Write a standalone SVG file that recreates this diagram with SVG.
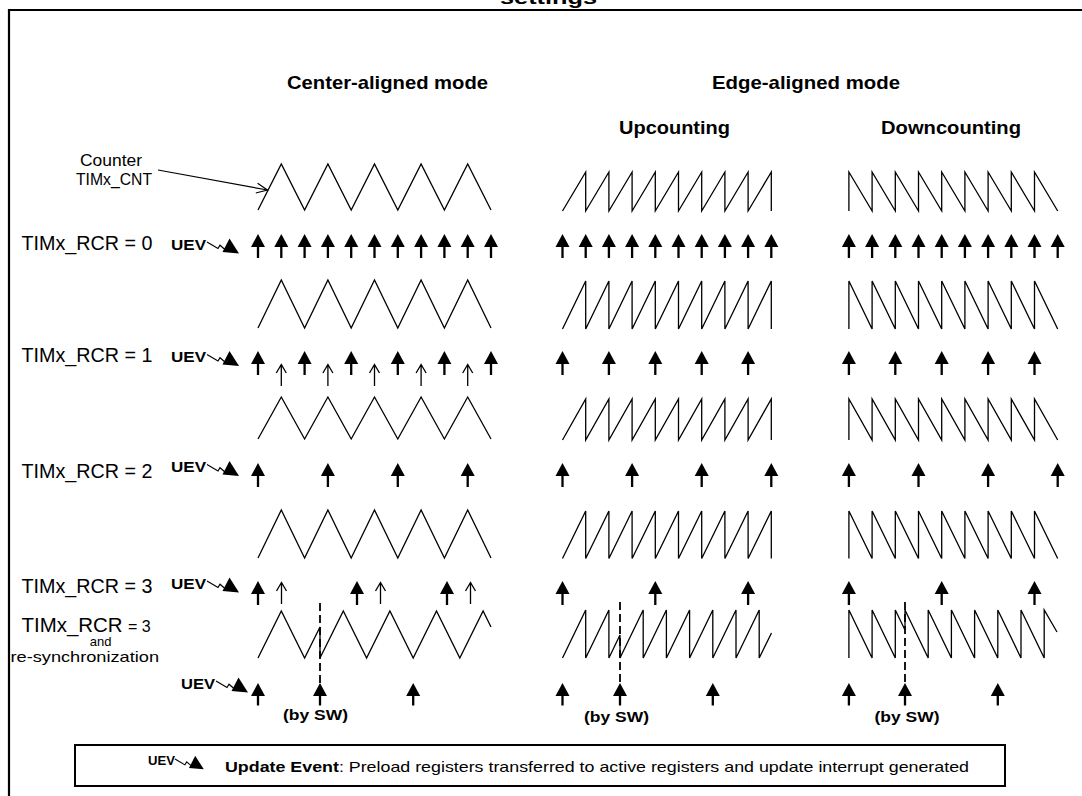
<svg xmlns="http://www.w3.org/2000/svg" xmlns:xlink="http://www.w3.org/1999/xlink" width="1082" height="796" viewBox="0 0 1082 796">
<style>
.w{fill:none;stroke:#000;stroke-width:1.3;stroke-linejoin:miter}
.t{font-family:"Liberation Sans",Arial,Helvetica,sans-serif;fill:#000}
.b{font-weight:bold}
.d{fill:none;stroke:#000;stroke-width:1.8;stroke-dasharray:8 4}
</style>
<defs>
<g id="fa"><path d="M-7,13 L0,0 L7,13 Z"/><rect x="-1.15" y="12" width="2.3" height="12"/></g>
<g id="fs"><path d="M-7,13 L0,0 L7,13 Z"/><rect x="-1.15" y="12" width="2.3" height="10.5"/></g>
<g id="oa"><path d="M0,0.5 V22 M-5,9 L0,0.5 L5,9" fill="none" stroke="#000" stroke-width="1.3"/></g>
<g id="bolt"><polyline points="0,0 11,6.5 13,3.2 18.5,8" fill="none" stroke="#000" stroke-width="1.2"/><path d="M15.5,10 L22.5,-3.5 L32,11.5 Z"/></g>
</defs>
<rect width="1082" height="796" fill="#fff"/>
<g id="frame">
<text class="t b" x="500" y="3.5" font-size="19" textLength="97" lengthAdjust="spacingAndGlyphs">settings</text>
<path d="M9,796 V10 H1082" fill="none" stroke="#000" stroke-width="2.2"/>
</g>
<g id="headings">
<text class="t b" x="287" y="89" font-size="18.5" textLength="201" lengthAdjust="spacingAndGlyphs">Center-aligned mode</text>
<text class="t b" x="712" y="89" font-size="18.5" textLength="188" lengthAdjust="spacingAndGlyphs">Edge-aligned mode</text>
<text class="t b" x="619" y="133.5" font-size="18.5" textLength="111" lengthAdjust="spacingAndGlyphs">Upcounting</text>
<text class="t b" x="881" y="133.5" font-size="18.5" textLength="140" lengthAdjust="spacingAndGlyphs">Downcounting</text>
</g>
<g id="counter-label">
<text class="t" x="80" y="166" font-size="16.5" textLength="62" lengthAdjust="spacingAndGlyphs">Counter</text>
<text class="t" x="76" y="184.5" font-size="16.5" textLength="76" lengthAdjust="spacingAndGlyphs">TIMx_CNT</text>
</g>
<g id="connectors">
<line x1="158" y1="170" x2="267.5" y2="190" stroke="#000" stroke-width="1.2"/>
<polyline points="257.6,183.2 267.5,190 255.8,193" fill="none" stroke="#000" stroke-width="1.2"/>
<line class="d" x1="320" y1="603" x2="320" y2="683"/>
<line class="d" x1="620" y1="602" x2="620" y2="683"/>
<line class="d" x1="905" y1="602" x2="905" y2="683"/>
</g>
<g id="waves-center">
<polyline class="w" points="258,210 281.3,164 304.6,210 327.9,164 351.2,210 374.5,164 397.8,210 421.1,164 444.4,210 467.7,164 491,210"/>
<polyline class="w" points="258,328 281.3,280 304.6,328 327.9,280 351.2,328 374.5,280 397.8,328 421.1,280 444.4,328 467.7,280 491,328"/>
<polyline class="w" points="258,439 281.3,397 304.6,439 327.9,397 351.2,439 374.5,397 397.8,439 421.1,397 444.4,439 467.7,397 491,439"/>
<polyline class="w" points="258,558 281.3,510 304.6,558 327.9,510 351.2,558 374.5,510 397.8,558 421.1,510 444.4,558 467.7,510 491,558"/>
<polyline class="w" points="258,658 281.3,611 304.6,658 320,627 320,658 343.3,611 366.6,658 389.9,611 413.2,658 436.5,611 459.8,658 483.1,611 491,627"/>
</g>
<g id="waves-up">
<path class="w" d="M562.5,211 L585.7,172 V211 L608.9,172 V211 L632.1,172 V211 L655.3,172 V211 L678.5,172 V211 L701.7,172 V211 L724.9,172 V211 L748.1,172 V211 L771.3,172 V211"/>
<path class="w" d="M562.5,329 L585.7,281 V329 L608.9,281 V329 L632.1,281 V329 L655.3,281 V329 L678.5,281 V329 L701.7,281 V329 L724.9,281 V329 L748.1,281 V329 L771.3,281 V329"/>
<path class="w" d="M562.5,440 L585.7,399 V440 L608.9,399 V440 L632.1,399 V440 L655.3,399 V440 L678.5,399 V440 L701.7,399 V440 L724.9,399 V440 L748.1,399 V440 L771.3,399 V440"/>
<path class="w" d="M562.5,558.5 L585.7,511 V558.5 L608.9,511 V558.5 L632.1,511 V558.5 L655.3,511 V558.5 L678.5,511 V558.5 L701.7,511 V558.5 L724.9,511 V558.5 L748.1,511 V558.5 L771.3,511 V558.5"/>
<path class="w" d="M562.5,658 L585.7,610 V658 L608.9,610 V658 L620,635 V658 L643.2,610 V658 L666.4,610 V658 L689.6,610 V658 L712.8,610 V658 L736,610 V658 L759.2,610 V658 L771.5,633"/>
</g>
<g id="waves-down">
<path class="w" d="M848.9,211 V172 L872.1,211 V172 L895.3,211 V172 L918.5,211 V172 L941.7,211 V172 L964.9,211 V172 L988.1,211 V172 L1011.3,211 V172 L1034.5,211 V172 L1057.7,211"/>
<path class="w" d="M848.9,329 V281 L872.1,329 V281 L895.3,329 V281 L918.5,329 V281 L941.7,329 V281 L964.9,329 V281 L988.1,329 V281 L1011.3,329 V281 L1034.5,329 V281 L1057.7,329"/>
<path class="w" d="M848.9,440 V399 L872.1,440 V399 L895.3,440 V399 L918.5,440 V399 L941.7,440 V399 L964.9,440 V399 L988.1,440 V399 L1011.3,440 V399 L1034.5,440 V399 L1057.7,440"/>
<path class="w" d="M848.9,558.5 V511 L872.1,558.5 V511 L895.3,558.5 V511 L918.5,558.5 V511 L941.7,558.5 V511 L964.9,558.5 V511 L988.1,558.5 V511 L1011.3,558.5 V511 L1034.5,558.5 V511 L1057.7,558.5"/>
<path class="w" d="M848.9,658 V610 L872.1,658 V610 L895.3,658 V610 L905,630 V610 L928.2,658 V610 L951.4,658 V610 L974.6,658 V610 L997.8,658 V610 L1021,658 V610 L1044.2,658 V610 L1057,632"/>
</g>
<g id="row-rcr0">
<text class="t" x="21.5" y="249.5" font-size="19.5" textLength="131" lengthAdjust="spacingAndGlyphs">TIMx_RCR = 0</text>
<text class="t b" x="171" y="249.5" font-size="14" textLength="35" lengthAdjust="spacingAndGlyphs">UEV</text>
<use xlink:href="#bolt" x="207" y="242"/>
<use xlink:href="#fa" x="258" y="234"/><use xlink:href="#fa" x="281.3" y="234"/><use xlink:href="#fa" x="304.6" y="234"/><use xlink:href="#fa" x="327.9" y="234"/><use xlink:href="#fa" x="351.2" y="234"/><use xlink:href="#fa" x="374.5" y="234"/><use xlink:href="#fa" x="397.8" y="234"/><use xlink:href="#fa" x="421.1" y="234"/><use xlink:href="#fa" x="444.4" y="234"/><use xlink:href="#fa" x="467.7" y="234"/><use xlink:href="#fa" x="491" y="234"/>
<use xlink:href="#fa" x="562.5" y="234"/><use xlink:href="#fa" x="585.7" y="234"/><use xlink:href="#fa" x="608.9" y="234"/><use xlink:href="#fa" x="632.1" y="234"/><use xlink:href="#fa" x="655.3" y="234"/><use xlink:href="#fa" x="678.5" y="234"/><use xlink:href="#fa" x="701.7" y="234"/><use xlink:href="#fa" x="724.9" y="234"/><use xlink:href="#fa" x="748.1" y="234"/><use xlink:href="#fa" x="771.3" y="234"/>
<use xlink:href="#fa" x="848.9" y="234"/><use xlink:href="#fa" x="872.1" y="234"/><use xlink:href="#fa" x="895.3" y="234"/><use xlink:href="#fa" x="918.5" y="234"/><use xlink:href="#fa" x="941.7" y="234"/><use xlink:href="#fa" x="964.9" y="234"/><use xlink:href="#fa" x="988.1" y="234"/><use xlink:href="#fa" x="1011.3" y="234"/><use xlink:href="#fa" x="1034.5" y="234"/><use xlink:href="#fa" x="1057.7" y="234"/>
</g>
<g id="row-rcr1">
<text class="t" x="21.5" y="362" font-size="19.5" textLength="131" lengthAdjust="spacingAndGlyphs">TIMx_RCR = 1</text>
<text class="t b" x="171" y="362" font-size="14" textLength="35" lengthAdjust="spacingAndGlyphs">UEV</text>
<use xlink:href="#bolt" x="207" y="354.5"/>
<use xlink:href="#fa" x="258" y="351"/><use xlink:href="#fa" x="304.6" y="351"/><use xlink:href="#fa" x="351.2" y="351"/><use xlink:href="#fa" x="397.8" y="351"/><use xlink:href="#fa" x="444.4" y="351"/><use xlink:href="#fa" x="491" y="351"/>
<use xlink:href="#oa" x="281.3" y="364"/><use xlink:href="#oa" x="327.9" y="364"/><use xlink:href="#oa" x="374.5" y="364"/><use xlink:href="#oa" x="421.1" y="364"/><use xlink:href="#oa" x="467.7" y="364"/>
<use xlink:href="#fa" x="562.5" y="351"/><use xlink:href="#fa" x="608.9" y="351"/><use xlink:href="#fa" x="655.3" y="351"/><use xlink:href="#fa" x="701.7" y="351"/><use xlink:href="#fa" x="748.1" y="351"/>
<use xlink:href="#fa" x="848.9" y="351"/><use xlink:href="#fa" x="895.3" y="351"/><use xlink:href="#fa" x="941.7" y="351"/><use xlink:href="#fa" x="988.1" y="351"/><use xlink:href="#fa" x="1034.5" y="351"/>
</g>
<g id="row-rcr2">
<text class="t" x="21.5" y="477.5" font-size="19.5" textLength="131" lengthAdjust="spacingAndGlyphs">TIMx_RCR = 2</text>
<text class="t b" x="171" y="472" font-size="14" textLength="35" lengthAdjust="spacingAndGlyphs">UEV</text>
<use xlink:href="#bolt" x="207" y="464.5"/>
<use xlink:href="#fa" x="258" y="463"/><use xlink:href="#fa" x="327.9" y="463"/><use xlink:href="#fa" x="397.8" y="463"/><use xlink:href="#fa" x="467.7" y="463"/>
<use xlink:href="#fa" x="562.5" y="463"/><use xlink:href="#fa" x="632.1" y="463"/><use xlink:href="#fa" x="701.7" y="463"/><use xlink:href="#fa" x="771.3" y="463"/>
<use xlink:href="#fa" x="848.9" y="463"/><use xlink:href="#fa" x="918.5" y="463"/><use xlink:href="#fa" x="988.1" y="463"/><use xlink:href="#fa" x="1057.7" y="463"/>
</g>
<g id="row-rcr3">
<text class="t" x="21.5" y="593" font-size="19.5" textLength="131" lengthAdjust="spacingAndGlyphs">TIMx_RCR = 3</text>
<text class="t b" x="171" y="588.5" font-size="14" textLength="35" lengthAdjust="spacingAndGlyphs">UEV</text>
<use xlink:href="#bolt" x="207" y="581"/>
<use xlink:href="#fa" x="258" y="581"/><use xlink:href="#fa" x="357" y="581"/><use xlink:href="#fa" x="447" y="581"/>
<use xlink:href="#oa" x="281.5" y="582"/><use xlink:href="#oa" x="380.5" y="582"/><use xlink:href="#oa" x="470.5" y="582"/>
<use xlink:href="#fa" x="562.5" y="581"/><use xlink:href="#fa" x="655.3" y="581"/><use xlink:href="#fa" x="748.1" y="581"/>
<use xlink:href="#fa" x="848.9" y="581"/><use xlink:href="#fa" x="941.7" y="581"/><use xlink:href="#fa" x="1034.5" y="581"/>
</g>
<g id="row-resync">
<text class="t" x="21.5" y="631.5" font-size="19.5" textLength="101" lengthAdjust="spacingAndGlyphs">TIMx_RCR</text>
<text class="t" x="128" y="631.5" font-size="16">= 3</text>
<text class="t" x="100.7" y="646" font-size="13" text-anchor="middle">and</text>
<text class="t" x="10.5" y="662" font-size="15" textLength="148.5" lengthAdjust="spacingAndGlyphs">re-synchronization</text>
<text class="t b" x="181" y="688.5" font-size="14" textLength="34" lengthAdjust="spacingAndGlyphs">UEV</text>
<use xlink:href="#bolt" x="216" y="681"/>
<use xlink:href="#fs" x="258" y="683"/><use xlink:href="#fs" x="320" y="683"/><use xlink:href="#fs" x="413.2" y="683"/>
<use xlink:href="#fs" x="562.5" y="683"/><use xlink:href="#fs" x="620" y="683"/><use xlink:href="#fs" x="712.8" y="683"/>
<use xlink:href="#fs" x="848.9" y="683"/><use xlink:href="#fs" x="905" y="683"/><use xlink:href="#fs" x="997.8" y="683"/>
<text class="t b" x="283" y="720" font-size="14.5" textLength="65" lengthAdjust="spacingAndGlyphs">(by SW)</text>
<text class="t b" x="584" y="722" font-size="14.5" textLength="65" lengthAdjust="spacingAndGlyphs">(by SW)</text>
<text class="t b" x="874.5" y="722" font-size="14.5" textLength="65" lengthAdjust="spacingAndGlyphs">(by SW)</text>
</g>
<g id="legend">
<rect x="75" y="745" width="930" height="41" fill="none" stroke="#000" stroke-width="2"/>
<text class="t b" x="148" y="765" font-size="13.5" textLength="27" lengthAdjust="spacingAndGlyphs">UEV</text>
<use xlink:href="#bolt" transform="translate(175,759) scale(0.9)"/>
<text class="t" x="225" y="771.5" font-size="15" textLength="744" lengthAdjust="spacingAndGlyphs"><tspan font-weight="bold">Update Event</tspan>: Preload registers transferred to active registers and update interrupt generated</text>
</g>
</svg>
